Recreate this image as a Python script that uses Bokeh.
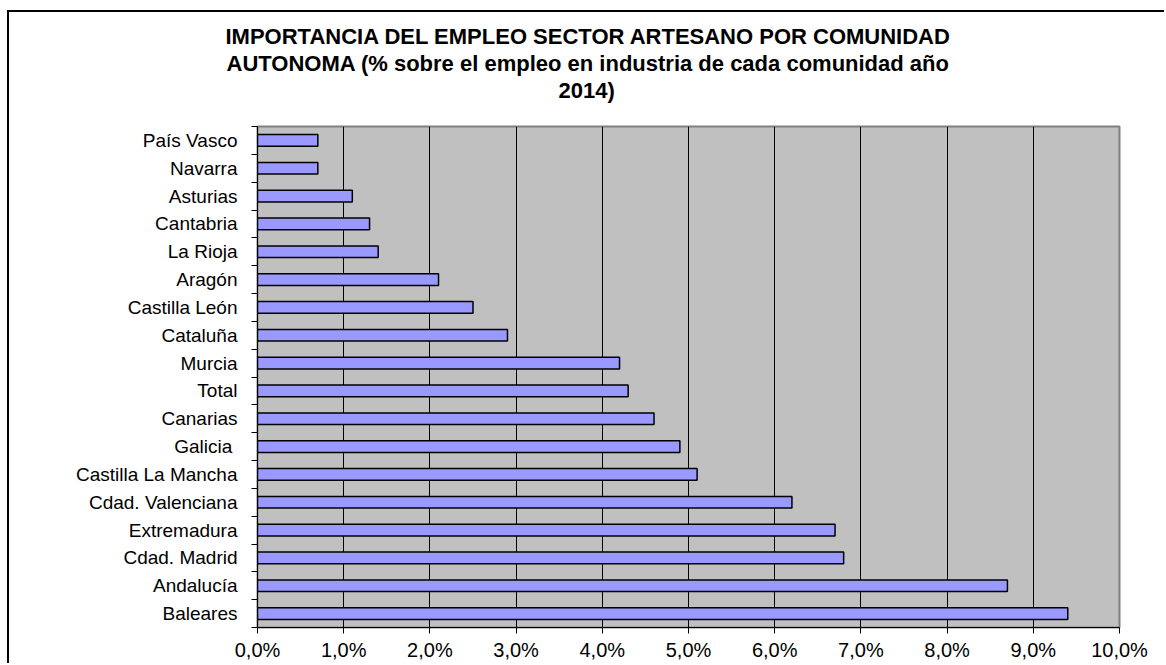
from bokeh.plotting import figure
from bokeh.models import Range1d, FixedTicker, ColumnDataSource, Title
from bokeh.embed import file_html
from bokeh.resources import INLINE

# ---- data (top to bottom as in the chart) ----
regions = ["País Vasco", "Navarra", "Asturias", "Cantabria", "La Rioja", "Aragón",
           "Castilla León", "Cataluña", "Murcia", "Total", "Canarias", "Galicia ",
           "Castilla La Mancha", "Cdad. Valenciana", "Extremadura", "Cdad. Madrid",
           "Andalucía", "Baleares"]
values = [0.7, 0.7, 1.1, 1.3, 1.4, 2.1, 2.5, 2.9, 4.2, 4.3, 4.6, 4.9, 5.1, 6.2,
          6.7, 6.8, 8.7, 9.4]
x_ticks = [0, 1, 2, 3, 4, 5, 6, 7, 8, 9, 10]
x_tick_labels = ["0,0%", "1,0%", "2,0%", "3,0%", "4,0%", "5,0%", "6,0%", "7,0%",
                 "8,0%", "9,0%", "10,0%"]
title_lines = ["IMPORTANCIA DEL EMPLEO SECTOR ARTESANO POR COMUNIDAD",
               "AUTONOMA (% sobre el empleo en industria de cada comunidad año",
               "2014)"]
# horizontal offsets (px from the frame's left edge) that centre each line on the chart
title_offsets = [-32, -31, 301]

n = len(regions)
ypos = [n - 1 - i for i in range(n)]
src = ColumnDataSource(dict(y=ypos, v=values, name=regions))

FONT = "Liberation Sans"

p = figure(width=1157, height=653, output_backend="svg", toolbar_location=None,
           x_range=Range1d(0, 10), y_range=Range1d(-0.5, n - 0.5),
           min_border_left=248, min_border_right=47, min_border_top=114,
           min_border_bottom=38)
p.styles = {"border-left": "2px solid #000000", "border-top": "2px solid #000000",
            "margin-left": "7px", "margin-top": "10px"}

p.border_fill_color = "#FFFFFF"
p.background_fill_color = "#C0C0C0"
p.outline_line_color = "#808080"
p.outline_line_width = 2

p.hbar(y="y", right="v", left=0, height=0.42, source=src,
       fill_color="#9999FF", line_color="#000000", line_width=1.5)

# x axis
p.xaxis.ticker = FixedTicker(ticks=x_ticks)
p.xaxis.major_label_overrides = {t: l for t, l in zip(x_ticks, x_tick_labels)}
p.xaxis.axis_line_color = "#000000"
p.xaxis.axis_line_width = 1
p.xaxis.major_tick_line_color = "#000000"
p.xaxis.major_tick_out = 6
p.xaxis.major_tick_in = 0
p.xaxis.minor_tick_line_color = None
p.xaxis.major_label_text_font = FONT
p.xaxis.major_label_text_font_size = "20px"
p.xaxis.major_label_text_color = "#000000"
p.xaxis.major_label_standoff = 5

# y axis: labels at centres, ticks between categories
p.yaxis.ticker = FixedTicker(ticks=ypos, minor_ticks=[i - 0.5 for i in range(n + 1)])
p.yaxis.major_label_overrides = {y: r for y, r in zip(ypos, regions)}
p.yaxis.axis_line_color = "#000000"
p.yaxis.major_tick_line_color = None
p.yaxis.minor_tick_line_color = "#000000"
p.yaxis.minor_tick_out = 6
p.yaxis.minor_tick_in = 0
p.yaxis.major_label_text_font = FONT
p.yaxis.major_label_text_font_size = "19px"
p.yaxis.major_label_text_color = "#000000"
p.yaxis.major_label_standoff = 14

# grids
p.xgrid.ticker = FixedTicker(ticks=x_ticks[1:-1])
p.xgrid.grid_line_color = "#000000"
p.xgrid.grid_line_width = 1
p.ygrid.grid_line_color = None

# spacer between frame and title block
p.add_layout(Title(text=" ", text_font=FONT, text_font_size="20px",
                   text_line_height=1.0, standoff=0), "above")
# title: one Title per line (added bottom line first)
for line, off in reversed(list(zip(title_lines, title_offsets))):
    t = Title(text=line, align="left", offset=off,
              text_font=FONT, text_font_style="bold", text_font_size="22px",
              text_color="#000000", text_line_height=0.92, standoff=0)
    p.add_layout(t, "above")

open("out.html", "w").write(file_html(p, INLINE))
